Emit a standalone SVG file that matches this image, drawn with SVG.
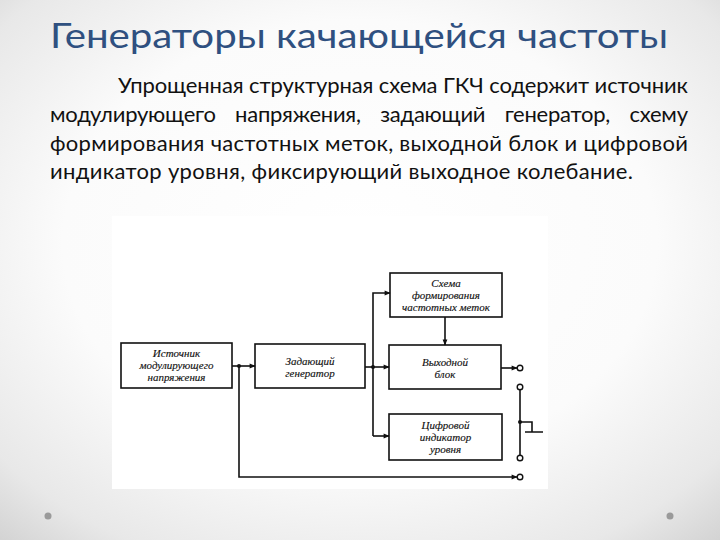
<svg xmlns="http://www.w3.org/2000/svg" width="720" height="540" viewBox="0 0 720 540">
<defs>
<radialGradient id="bg" cx="50%" cy="45%" r="75%">
<stop offset="0" stop-color="#ffffff"/>
<stop offset="0.55" stop-color="#fbfbfb"/>
<stop offset="0.85" stop-color="#e8e8e8"/>
<stop offset="1" stop-color="#d2d2d2"/>
</radialGradient>
<marker id="ah" viewBox="0 0 10 10" refX="9" refY="5" markerWidth="7" markerHeight="6" orient="auto" markerUnits="userSpaceOnUse">
<path d="M0,1 L10,5 L0,9 z" fill="#111"/>
</marker>
<style>
.title{font-family:Lato,"Open Sans","Liberation Sans",sans-serif;font-size:34px;fill:#2f5080}
.body{font-family:Lato,"Open Sans","Liberation Sans",sans-serif;font-size:22px;fill:#111}
.box{fill:#fff;stroke:#111;stroke-width:1.6}
.lbl{font-family:"Liberation Serif","DejaVu Serif",serif;font-style:italic;font-size:11px;fill:#111;stroke:#111;stroke-width:0.15;text-anchor:middle}
.wire{fill:none;stroke:#111;stroke-width:1.6}
.term{fill:#fff;stroke:#111;stroke-width:1.4}
</style>
</defs>
<rect x="0" y="0" width="720" height="540" fill="url(#bg)"/>
<text class="title" x="50" y="48" textLength="618" lengthAdjust="spacingAndGlyphs">Генераторы качающейся частоты</text>
<g id="body-text">
<text class="body" x="118" y="93" textLength="570" lengthAdjust="spacing">Упрощенная структурная схема ГКЧ содержит источник</text>
<text class="body" x="50" y="122" word-spacing="14" textLength="638" lengthAdjust="spacing">модулирующего напряжения, задающий генератор, схему</text>
<text class="body" x="50" y="151" textLength="638" lengthAdjust="spacing">формирования частотных меток, выходной блок и цифровой</text>
<text class="body" x="50" y="179" textLength="583" lengthAdjust="spacing">индикатор уровня, фиксирующий выходное колебание.</text>
</g>
<rect x="112" y="216" width="436" height="273" fill="#fff"/>
<g id="n1"><rect class="box" x="121" y="343" width="111" height="45"/>
<text class="lbl" x="176.5" y="357">Источник</text><text class="lbl" x="176.5" y="369">модулирующего</text><text class="lbl" x="176.5" y="381">напряжения</text></g>
<g id="n2"><rect class="box" x="255" y="344" width="110" height="44"/>
<text class="lbl" x="310" y="365">Задающий</text><text class="lbl" x="310" y="377">генератор</text></g>
<g id="n3"><rect class="box" x="390" y="273" width="112" height="44"/>
<text class="lbl" x="446" y="287">Схема</text><text class="lbl" x="446" y="299">формирования</text><text class="lbl" x="446" y="311">частотных меток</text></g>
<g id="n4"><rect class="box" x="389" y="345" width="112" height="44"/>
<text class="lbl" x="445" y="366">Выходной</text><text class="lbl" x="445" y="378">блок</text></g>
<g id="n5"><rect class="box" x="389" y="414" width="113" height="46"/>
<text class="lbl" x="445.5" y="429">Цифровой</text><text class="lbl" x="445.5" y="441">индикатор</text><text class="lbl" x="445.5" y="453">уровня</text></g>
<g id="connectors">
<path class="wire" d="M232,366 H255" marker-end="url(#ah)"/>
<path class="wire" d="M239,366 V477 H517" marker-end="url(#ah)"/>
<circle cx="239" cy="366" r="2" fill="#111"/>
<path class="wire" d="M365,367 H389" marker-end="url(#ah)"/>
<path class="wire" d="M373,436 V293 H390" marker-end="url(#ah)"/>
<path class="wire" d="M373,436 H389" marker-end="url(#ah)"/>
<circle cx="373" cy="367" r="2" fill="#111"/>
<path class="wire" d="M445,317 V345" marker-end="url(#ah)"/>
<path class="wire" d="M501,368 H517" marker-end="url(#ah)"/>
<path class="wire" d="M520,390 V455"/>
<path class="wire" d="M520,422 H532 V432 M525,432 H543"/>
<circle cx="520" cy="422" r="2" fill="#111"/>
<circle class="term" cx="520" cy="368" r="2.8"/>
<circle class="term" cx="520" cy="387" r="2.8"/>
<circle class="term" cx="520" cy="458" r="2.8"/>
<circle class="term" cx="520" cy="477" r="2.8"/>
</g>
<circle cx="48" cy="516" r="3.5" fill="#9a9a9a"/>
<circle cx="670" cy="516" r="3.5" fill="#9a9a9a"/>
</svg>
